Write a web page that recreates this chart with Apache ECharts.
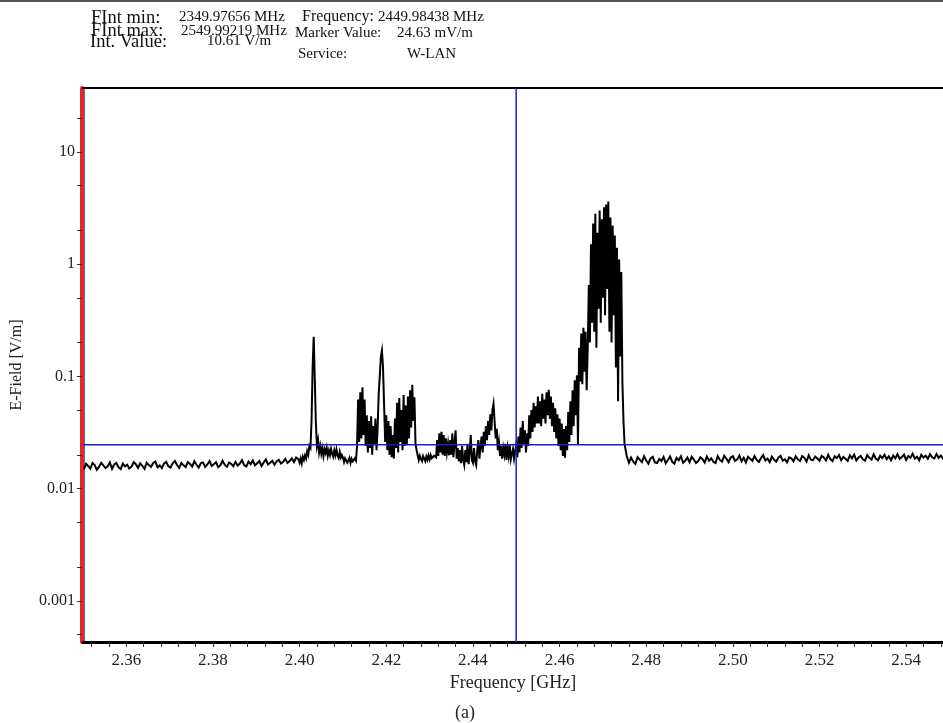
<!DOCTYPE html>
<html><head><meta charset="utf-8">
<script src="https://cdn.jsdelivr.net/npm/echarts@6/dist/echarts.min.js"></script>
<style>html,body{margin:0;padding:0;background:#fff}#c{width:943px;height:723px}</style>
</head><body><div id="c"></div>
<script>
// Frequencies in GHz, field strength in mV/m (converted to V/m for the chart)
const baselineLowStart = 2.3502, baselineLowStep = 0.0005;
const baselineLow = [
14.8,16.6,15.9,15.1,16.9,16.2,14.7,15.6,17.0,16.1,
15.2,15.8,17.1,15.0,16.4,16.9,15.5,14.9,16.7,15.8,
16.3,15.1,15.7,17.2,16.5,15.3,16.8,15.9,15.0,17.0,
16.2,15.6,16.9,17.4,15.5,16.1,15.2,16.7,17.3,15.8,
15.4,16.8,17.6,16.2,15.3,16.9,16.1,15.5,17.2,16.6,
15.7,17.5,16.3,15.4,16.8,17.1,15.6,16.4,17.6,15.9,
16.5,17.2,15.5,16.1,17.7,16.3,15.6,17.0,16.6,15.8,
17.3,16.0,16.7,17.9,16.2,15.7,17.4,16.5,17.8,16.1,
16.8,17.6,15.9,17.1,18.2,16.4,17.0,17.7,16.3,17.5,
18.0,16.7,17.3,18.4,16.9,17.6,18.6,17.2,18.9,18.3];

const activeBandStart = 2.4000, activeBandStep = 0.00025;
const activeBand = [
17.0,18.6,16.8,19.2,18.0,19.8,18.6,21.5,20.0,24.0,23.0,40.0,120,225,95,38,24,27,21,24,
20.5,23.0,19.5,22.4,20.8,23.2,19.6,21.8,19.9,22.6,20.4,19.2,21.9,19.8,22.3,19.6,18.7,21.2,18.9,19.9,
18.9,17.2,18.6,19.3,17.0,17.8,18.8,16.9,18.4,17.5,16.9,18.6,17.8,24,62,26,72,28,80,30,
62,24,45,21,40,23,44,20,36,25,42,22,34,70,100,150,170,120,55,26,
45,22,40,20,36,19,30,18.5,42,23,58,21,64,26,50,22,68,24,55,25,
66,28,75,35,84,40,65,25,22,19.8,17.9,19.6,18.4,17.6,19.5,18.9,17.5,19.3,18.0,19.7,
18.2,19.9,18.6,17.9,19.6,20.2,19.0,27,19.5,31,21,32,20,30,19.5,28,21,25,19.8,27,
20,31,19,25,33,18.5,23,17.5,22,16.8,24,18,16.2,22,17.2,25,16.5,21,30,18,
17.0,23,17.5,16.2,22,27,18.5,24,29,21,32,24,36,27,40,30,46,33,50,57,
40,28,34,22,26,19.5,24,18.5,23,20,25,18,23,19.5,24.5,18.2,17.6,22.5,18.5,21.5,
24.6,19.0,29,21,35,23,40,25,33,21,31,24,45,28,50,32,58,35,54,38,
66,38,60,36,70,42,62,38,72,45,76,42,66,36,58,32,52,28,46,24,
42,22,38,19.5,34,18.8,36,22,48,26,60,30,75,36,92,45,102,25,180,90,
240,85,270,110,250,75,180,650,200,1500,300,2300,250,2800,180,1900,400,3000,300,2500,
500,3200,350,3400,600,3600,250,2600,200,2200,350,1800,120,1400,60,1100,150,850,90,40];

const baselineHighStart = 2.4750, baselineHighStep = 0.0005;
const baselineHigh = [
25,19.5,17.0,18.9,17.4,16.6,19.0,18.1,17.2,19.4,
17.8,16.7,18.6,19.2,17.1,16.9,18.4,17.6,19.1,16.8,
18.0,19.3,17.3,16.7,18.8,17.9,19.4,17.0,17.7,18.9,
17.2,19.2,18.1,16.9,17.6,19.0,18.3,17.1,19.3,17.7,
18.6,17.3,16.9,19.5,18.0,17.4,19.6,18.5,17.2,18.9,
19.4,17.6,18.2,19.7,17.5,18.8,17.1,19.2,18.4,17.7,
19.5,18.0,17.3,18.7,19.9,17.8,18.5,17.2,19.3,18.1,
17.4,18.9,19.6,17.7,18.3,17.1,19.0,18.6,17.5,19.4,
18.2,17.6,19.5,18.8,17.4,19.8,18.1,17.9,19.3,18.5,
17.7,19.6,18.9,17.8,20.0,18.3,17.6,19.4,18.7,19.9,
17.9,19.1,18.4,17.6,19.8,18.6,20.1,17.8,18.9,19.5,
18.2,17.7,19.9,18.8,18.1,20.2,18.5,17.9,19.6,18.7,
20.0,18.3,19.4,17.9,19.7,18.6,20.3,18.4,19.1,20.1,
18.0,19.5,18.8,20.4,18.5,19.2,17.9,20.0,18.9,19.6,
18.4,20.2,19.0,18.6,20.3,18.8,19.7,18.5,19.9];

const markerFreq = 2.44998;   // GHz
const markerLevel = 0.02463;  // V/m

const xMin = 2.35, xMax = 2.5485;
const yMin = 0.00043, yMax = 37;
const xLabelValues = [2.36,2.38,2.40,2.42,2.44,2.46,2.48,2.50,2.52,2.54];
const xTickValues = [2.352,2.356,2.36,2.364,2.368,2.372,2.376,2.38,2.384,2.388,2.392,2.396,2.4,2.404,2.408,2.412,2.416,2.42,2.424,2.428,2.432,2.436,2.44,2.444,2.448,2.452,2.456,2.46,2.464,2.468,2.472,2.476,2.48,2.484,2.488,2.492,2.496,2.5,2.504,2.508,2.512,2.516,2.52,2.524,2.528,2.532,2.536,2.54,2.544,2.548];
const yLabelValues = [0.001,0.01,0.1,1,10];
const yTickValues = [0.0005,0.001,0.002,0.005,0.01,0.02,0.05,0.1,0.2,0.5,1,2,5,10,20];

function seg(start, step, vals) {
  return vals.map((v, i) => [+(start + i * step).toFixed(5), v / 1000]);
}
const trace = [].concat(
  seg(baselineLowStart, baselineLowStep, baselineLow),
  seg(activeBandStart, activeBandStep, activeBand),
  seg(baselineHighStart, baselineHighStep, baselineHigh)
);

const FONT = 'Liberation Serif';
const chart = echarts.init(document.getElementById('c'), null, {renderer: 'canvas'});
function hdr(text, x, y, size) {
  return {type: 'text', x: x, y: y, style: {text: text, fontFamily: FONT, fontSize: size, fill: '#111', verticalAlign: 'middle', align: 'left'}};
}
const markerStyle = {color: '#1c1cc8', width: 1.5};
chart.setOption({
  animation: false,
  backgroundColor: '#fff',
  grid: {left: 83, top: 88, right: 0, bottom: 81, containLabel: false},
  xAxis: [{
    type: 'value', min: xMin, max: xMax, position: 'bottom',
    axisLine: {show: true, onZero: false, lineStyle: {color: '#000', width: 3}},
    axisTick: {show: true, length: 5, customValues: xTickValues, lineStyle: {color: '#333', width: 1}},
    axisLabel: {customValues: xLabelValues, formatter: v => (+v).toFixed(2), fontFamily: FONT, fontSize: 17, color: '#222', margin: 10},
    splitLine: {show: false},
    name: 'Frequency [GHz]', nameLocation: 'middle', nameGap: 30,
    nameTextStyle: {fontFamily: FONT, fontSize: 18, color: '#222'}
  }, {
    type: 'value', min: xMin, max: xMax, position: 'top',
    axisLine: {show: true, onZero: false, lineStyle: {color: '#000', width: 2}},
    axisTick: {show: false}, axisLabel: {show: false}, splitLine: {show: false}
  }],
  yAxis: [{
    type: 'log', logBase: 10, min: yMin, max: yMax, position: 'left', offset: 1,
    axisLine: {show: true, lineStyle: {color: '#e8262a', width: 4, cap: 'round'}},
    axisTick: {show: true, length: 5, customValues: yTickValues, lineStyle: {color: '#333', width: 1}},
    axisLabel: {customValues: yLabelValues, formatter: v => String(+(+v).toPrecision(3)), fontFamily: FONT, fontSize: 16, color: '#222', margin: 7},
    splitLine: {show: false}, minorTick: {show: false},
    name: 'E-Field [V/m]', nameLocation: 'middle', nameGap: 57,
    nameTextStyle: {fontFamily: FONT, fontSize: 16, color: '#222'}
  }, {
    type: 'log', logBase: 10, min: yMin, max: yMax, position: 'left', offset: -1,
    axisLine: {show: true, lineStyle: {color: '#3f7f7c', width: 1}},
    axisTick: {show: false}, axisLabel: {show: false}, splitLine: {show: false}
  }],
  series: [{
    type: 'line', data: trace, xAxisIndex: 0, yAxisIndex: 0,
    showSymbol: false, symbol: 'none', clip: true, z: 3,
    lineStyle: {color: '#000', width: 2, join: 'miter'}
  }, {
    type: 'line', data: [[xMin, markerLevel], [xMax, markerLevel]], xAxisIndex: 0, yAxisIndex: 0,
    showSymbol: false, symbol: 'none', silent: true, z: 4, lineStyle: markerStyle
  }, {
    type: 'line', data: [[markerFreq, yMin], [markerFreq, yMax]], xAxisIndex: 0, yAxisIndex: 0,
    showSymbol: false, symbol: 'none', silent: true, z: 4, lineStyle: markerStyle
  }],
  graphic: [
    {type: 'line', shape: {x1: 0, y1: 1, x2: 943, y2: 1}, style: {stroke: '#555', lineWidth: 2}},
    hdr('FInt min:', 91, 18, 18.5),
    hdr('2349.97656 MHz', 179, 17, 15),
    hdr('Frequency:', 302, 17, 16),
    hdr('2449.98438 MHz', 378, 17, 15),
    hdr('FInt max:', 91, 31, 18.5),
    hdr('2549.99219 MHz', 181, 31, 15),
    hdr('Marker Value:', 295, 33, 15),
    hdr('24.63 mV/m', 397, 33, 15),
    hdr('Int. Value:', 90, 42.5, 18.5),
    hdr('10.61 V/m', 207, 41, 15),
    hdr('Service:', 298, 54, 15),
    hdr('W-LAN', 407, 54, 15),
    {type: 'text', x: 465, y: 713, style: {text: '(a)', fontFamily: FONT, fontSize: 18, fill: '#222', align: 'center', verticalAlign: 'middle'}}
  ]
});
</script></body></html>
